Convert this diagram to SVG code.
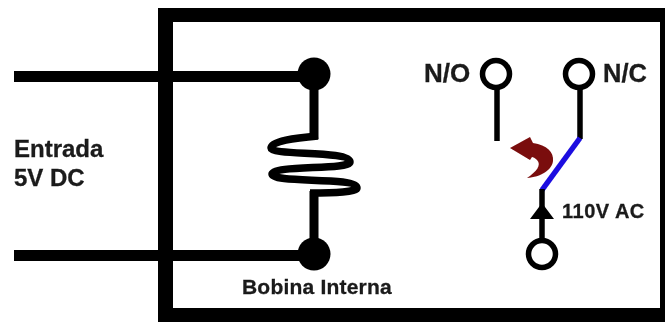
<svg xmlns="http://www.w3.org/2000/svg" width="665" height="322" viewBox="0 0 665 322">
<style>
text{font-family:"Liberation Sans",Arial,sans-serif;font-weight:bold;fill:#1a1a1a;stroke:#1a1a1a;stroke-width:0.3}
.w{fill:none;stroke:#000;stroke-width:11}
.v{fill:none;stroke:#000;stroke-width:9}
.c{fill:none;stroke:#000;stroke-width:7.500}
.t{fill:none;stroke:#000;stroke-width:5.500}
.o{fill:#fff;stroke:#000;stroke-width:5.500}
</style>
<defs><filter id="soft" x="0" y="0" width="100%" height="100%"><feGaussianBlur stdDeviation="0.5"/></filter></defs>
<rect width="665" height="322" fill="#fff"/>
<g filter="url(#soft)">
<g id="relay-box"><path d="M158 8H665V322H158ZM173 22V308H660V22Z" fill="#000" fill-rule="evenodd"/></g>
<g id="connectors">
<path class="w" d="M14 76.500H314M14 255.500H314"/>
<path class="v" d="M314 76V139M314 191V255"/>
<path class="c" d="M318 136C295 138 271 141 271 148C271 156 350 150 350 162C350 170 272 165 272 174C272 184 357 176 357 188C357 192 335 193 310 193"/>
<path class="t" d="M497 88V141"/>
<path class="t" d="M580 88V139"/>
<path d="M580 138L542 190" fill="none" stroke="#1f10e0" stroke-width="5.500"/>
<path class="t" d="M542 189V242"/>
<path d="M542 203L554 219H530Z" fill="#000"/>
<path d="M510 148L530 137L533 143C547 145 554 152 553 161C552 170 541 177 527 178C536 172 542 165 537 160C535 158 533 157 532 157L530 160Z" fill="#7a0c0c"/>
</g>
<g id="coil-top"><circle cx="314" cy="74" r="16.500" fill="#000"/></g>
<g id="coil-bottom"><circle cx="314" cy="254" r="16.500" fill="#000"/></g>
<g id="no"><circle class="o" cx="496" cy="74" r="13.500"/><text x="424" y="82" font-size="26">N/O</text></g>
<g id="nc"><circle class="o" cx="579" cy="74" r="13.500"/><text x="603" y="82" font-size="25.500">N/C</text></g>
<g id="common"><circle class="o" cx="542" cy="254" r="13.500"/><text x="562" y="218" font-size="20" letter-spacing="0.5">110V AC</text></g>
<g id="labels">
<text x="14" y="157" font-size="24">Entrada</text>
<text x="14" y="186" font-size="24">5V DC</text>
<text x="242" y="294" font-size="21" letter-spacing="0.2">Bobina Interna</text>
</g>
</g>
</svg>
